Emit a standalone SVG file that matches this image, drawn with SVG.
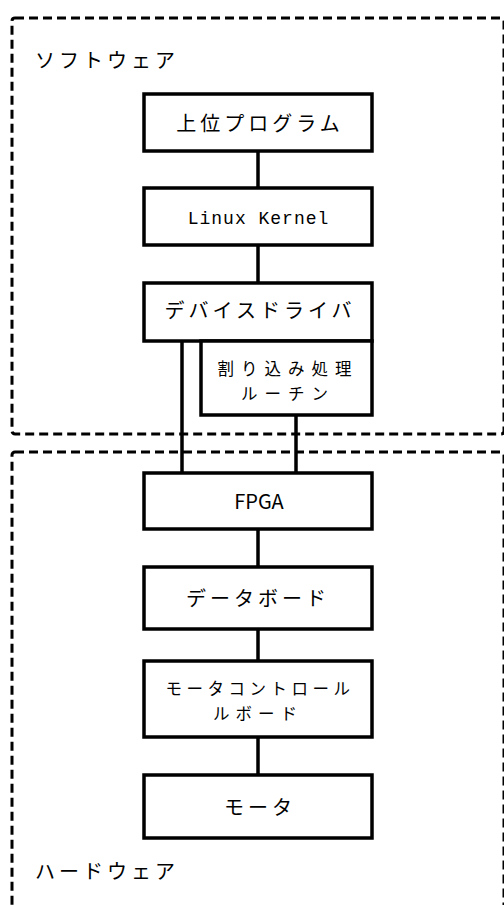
<svg xmlns="http://www.w3.org/2000/svg" width="504" height="905" viewBox="0 0 504 905">
<style>
.grp{fill:none;stroke:#000;stroke-width:3;stroke-dasharray:9 5}
.box{fill:#fff;stroke:#000;stroke-width:3.5}
.t{font-family:"Noto Sans CJK JP","Liberation Sans",sans-serif;font-size:20px;fill:#000;letter-spacing:4px}
.c{text-anchor:middle}
.s{font-size:16.5px;letter-spacing:7px}
.m{font-family:"Liberation Mono","DejaVu Sans Mono",monospace;font-size:18px;letter-spacing:1px}
.conn line{stroke:#000;stroke-width:3.5}
</style>
<rect width="504" height="905" fill="#fff"/>
<g id="software">
<rect class="grp" x="12" y="18" width="492" height="416" rx="3"/>
<text class="t" x="35" y="68">ソフトウェア</text>
</g>
<g id="hardware">
<rect class="grp" x="12" y="452" width="492" height="480" rx="3"/>
<text class="t" x="35" y="879">ハードウェア</text>
</g>
<g id="n1"><rect class="box" x="144" y="94" width="228" height="57"/><text class="t c" x="260" y="131">上位プログラム</text></g>
<g id="n2"><rect class="box" x="144" y="188" width="228" height="57"/><text class="t c m" x="258.5" y="224">Linux Kernel</text></g>
<g id="n3"><rect class="box" x="144" y="283" width="228" height="58"/><text class="t c" x="260" y="318">デバイスドライバ</text></g>
<g id="n4"><rect class="box" x="201" y="341" width="171" height="74"/><text class="t c s" x="288" y="375">割り込み処理</text><text class="t c s" x="288" y="400">ルーチン</text></g>
<g id="n5"><rect class="box" x="144" y="473" width="228" height="56"/><text class="t c" x="259" y="509" style="letter-spacing:0">FPGA</text></g>
<g id="n6"><rect class="box" x="144" y="567" width="228" height="62"/><text class="t c" x="258" y="606">データボード</text></g>
<g id="n7"><rect class="box" x="144" y="661" width="228" height="76"/><text class="t c s" x="260" y="695" style="letter-spacing:4.5px">モータコントロール</text><text class="t c s" x="258" y="720" style="letter-spacing:6px">ルボード</text></g>
<g id="n8"><rect class="box" x="144" y="775" width="228" height="63"/><text class="t c" x="260" y="815">モータ</text></g>
<g class="conn" id="connectors">
<line x1="258" y1="151" x2="258" y2="188"/>
<line x1="258" y1="245" x2="258" y2="283"/>
<line x1="182" y1="341" x2="182" y2="473"/>
<line x1="296" y1="415" x2="296" y2="473"/>
<line x1="258" y1="529" x2="258" y2="567"/>
<line x1="258" y1="629" x2="258" y2="661"/>
<line x1="258" y1="737" x2="258" y2="775"/>
</g>
</svg>
